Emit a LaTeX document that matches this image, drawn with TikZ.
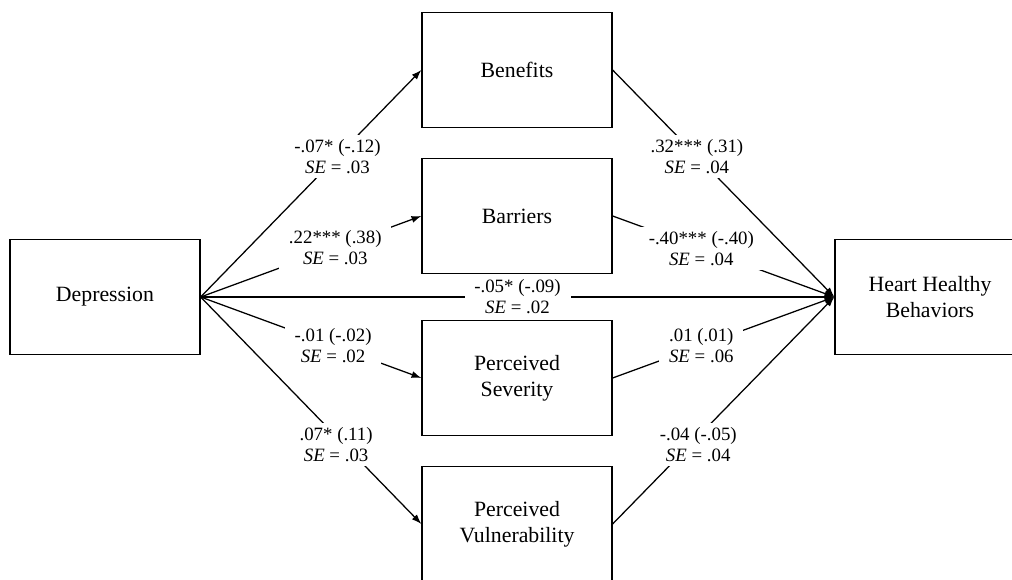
\documentclass[tikz,border=0pt]{standalone}
\usepackage{fontspec}
\setmainfont{Liberation Serif}
\usetikzlibrary{arrows.meta,positioning}

\tikzset{
  var/.style={draw, line width=0.9pt, minimum width=4.75cm, minimum height=2.875cm,
              align=center, font=\fontsize{15.5}{18.5}\selectfont},
  effect/.style={line width=0.9pt, -{Latex[length=7pt,width=5pt]}},
  coef/.style={fill=white, align=center, inner xsep=7pt, inner ysep=3pt,
               font=\fontsize{13.4}{15}\selectfont}
}

\begin{document}
\begin{tikzpicture}
\useasboundingbox (0,0) rectangle (25.3,14.5);
% variables
\node[var] (dep) at (2.625,7.075) {Depression};
\node[var] (ben) at (12.925,12.75) {Benefits};
\node[var] (bar) at (12.925,9.1) {Barriers};
\node[var] (sev) at (12.925,5.05) {Perceived\\Severity};
\node[var] (vul) at (12.925,1.4) {Perceived\\Vulnerability};
\node[var] (hhb) at (23.25,7.075) {Heart Healthy\\Behaviors};
% a paths
\draw[effect] (dep.east) -- node[coef,pos=0.62] {-.07* (-.12)\\\textit{SE} = .03} (ben.west);
\draw[effect] (dep.east) -- node[coef,pos=0.61] {.22*** (.38)\\\textit{SE} = .03} (bar.west);
\draw[effect] (dep.east) -- node[coef,pos=0.6] {-.01 (-.02)\\\textit{SE} = .02} (sev.west);
\draw[effect] (dep.east) -- node[coef,pos=0.65,xshift=-0.2cm] {.07* (.11)\\\textit{SE} = .03} (vul.west);
% b paths
\draw[effect] (ben.east) -- node[coef,pos=0.38] {.32*** (.31)\\\textit{SE} = .04} (hhb.west);
\draw[effect] (bar.east) -- node[coef,pos=0.4] {-.40*** (-.40)\\\textit{SE} = .04} (hhb.west);
\draw[effect] (sev.east) -- node[coef,pos=0.4] {.01 (.01)\\\textit{SE} = .06} (hhb.west);
\draw[effect] (vul.east) -- node[coef,pos=0.35,xshift=0.2cm] {-.04 (-.05)\\\textit{SE} = .04} (hhb.west);
% direct path
\draw[effect] (dep.east) -- node[coef,pos=0.5] {-.05* (-.09)\\\textit{SE} = .02} (hhb.west);
\end{tikzpicture}
\end{document}
